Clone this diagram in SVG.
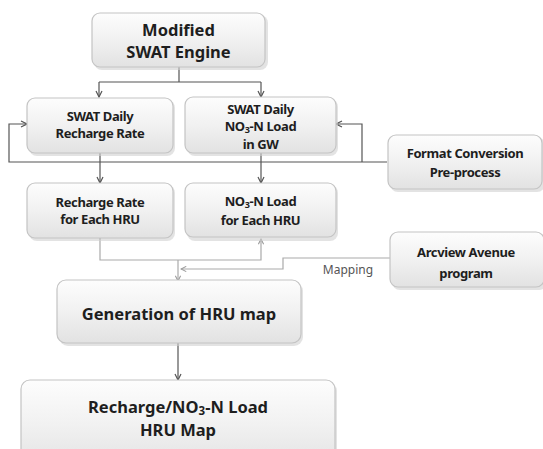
<svg xmlns="http://www.w3.org/2000/svg" width="543" height="449" viewBox="0 0 543 449">
<style>
.box{fill:url(#g);stroke:#c4c4c4;stroke-width:1.2}
.sh{fill:#d0d0d0;opacity:.6}
.t{font-family:"Noto Sans","Open Sans",sans-serif;font-weight:bold;fill:#1e1e1e;text-anchor:middle}
.big{font-size:16.5px}
.sm{font-size:13px;letter-spacing:-0.4px}
.sub{font-size:70%;baseline-shift:-20%}
.c{fill:none;stroke:#555;stroke-width:1.2}
.cl{fill:none;stroke:#aaa;stroke-width:1.2}
.lbl{font-family:"Noto Sans","Open Sans",sans-serif;font-size:12px;fill:#555;text-anchor:middle}
</style>
<defs>
<linearGradient id="g" x1="0" y1="0" x2="0" y2="1">
<stop offset="0" stop-color="#fdfdfd"/>
<stop offset="0.5" stop-color="#f1f1f1"/>
<stop offset="1" stop-color="#e2e2e2"/>
</linearGradient>
<marker id="a" viewBox="0 0 8 8" refX="7" refY="4" markerWidth="8" markerHeight="8" markerUnits="userSpaceOnUse" orient="auto">
<path d="M1,1 L7,4 L1,7" fill="none" stroke="#555" stroke-width="1.2"/>
</marker>
<marker id="al" viewBox="0 0 8 8" refX="7" refY="4" markerWidth="7" markerHeight="7" markerUnits="userSpaceOnUse" orient="auto">
<path d="M1,1 L7,4 L1,7" fill="none" stroke="#999" stroke-width="1.2"/>
</marker>
</defs>
<rect width="543" height="449" fill="#fff"/>

<g id="connectors">
<path class="c" d="M179,67 V82 M99,82 H261"/>
<path class="c" d="M99,82 V97" marker-end="url(#a)"/>
<path class="c" d="M261,82 V97" marker-end="url(#a)"/>
<path class="c" d="M387,162 H9 V124 H27" marker-end="url(#a)"/>
<path class="c" d="M362,162 V124 H336" marker-end="url(#a)"/>
<path class="c" d="M100,153 V183" marker-end="url(#a)"/>
<path class="c" d="M261,153 V183" marker-end="url(#a)"/>
<path class="cl" d="M100,239 V260 H261 V239" marker-start="url(#al)" marker-end="url(#al)"/>
<path class="cl" d="M178,260 V281" marker-end="url(#al)"/>
<path class="cl" d="M390,258 H283 V269 H181" marker-end="url(#al)"/>
<path class="c" d="M178,343 V380" marker-end="url(#a)"/>
<text class="lbl" x="348" y="274">Mapping</text>
</g>

<g id="n-engine">
<rect class="sh" x="94" y="15" width="174" height="55" rx="8"/>
<rect class="box" x="92" y="13" width="173" height="54" rx="8"/>
<text class="t big" x="178.5" y="36">Modified</text>
<text class="t big" x="178.5" y="58">SWAT Engine</text>
</g>

<g id="n-daily-recharge">
<rect class="sh" x="29" y="100" width="146" height="56" rx="8"/>
<rect class="box" x="27" y="98" width="146" height="55" rx="8"/>
<text class="t sm" x="100" y="121">SWAT Daily</text>
<text class="t sm" x="100" y="138">Recharge Rate</text>
</g>

<g id="n-daily-no3">
<rect class="sh" x="187" y="99" width="151" height="57" rx="8"/>
<rect class="box" x="185" y="97" width="151" height="56" rx="8"/>
<text class="t sm" x="260.5" y="114">SWAT Daily</text>
<text class="t sm" x="260.5" y="131">NO<tspan class="sub">3</tspan>-N Load</text>
<text class="t sm" x="260.5" y="149">in GW</text>
</g>

<g id="n-format">
<rect class="sh" x="390" y="137" width="155" height="55" rx="8"/>
<rect class="box" x="388" y="135" width="154" height="54" rx="8"/>
<text class="t sm" x="465" y="158">Format Conversion</text>
<text class="t sm" x="465" y="177">Pre-process</text>
</g>

<g id="n-recharge-hru">
<rect class="sh" x="29" y="185" width="146" height="56" rx="8"/>
<rect class="box" x="27" y="183" width="146" height="55" rx="8"/>
<text class="t sm" x="100" y="207">Recharge Rate</text>
<text class="t sm" x="100" y="224">for Each HRU</text>
</g>

<g id="n-no3-hru">
<rect class="sh" x="187" y="185" width="151" height="56" rx="8"/>
<rect class="box" x="185" y="183" width="151" height="54" rx="8"/>
<text class="t sm" x="260.5" y="206">NO<tspan class="sub">3</tspan>-N Load</text>
<text class="t sm" x="260.5" y="225">for Each HRU</text>
</g>

<g id="n-arcview">
<rect class="sh" x="392" y="234" width="155" height="56" rx="8"/>
<rect class="box" x="390" y="232" width="154" height="55" rx="8"/>
<text class="t sm" x="466" y="257">Arcview Avenue</text>
<text class="t sm" x="466" y="278">program</text>
</g>

<g id="n-generation">
<rect class="sh" x="59" y="282" width="244" height="64" rx="9"/>
<rect class="box" x="57" y="280" width="244" height="63" rx="9"/>
<text class="t big" x="179" y="320">Generation of HRU map</text>
</g>

<g id="n-final">
<rect class="sh" x="23" y="382" width="314" height="90" rx="9"/>
<rect class="box" x="21" y="380" width="314" height="90" rx="9"/>
<text class="t big" x="178" y="413">Recharge/NO<tspan class="sub">3</tspan>-N Load</text>
<text class="t big" x="178" y="436">HRU Map</text>
</g>
</svg>
